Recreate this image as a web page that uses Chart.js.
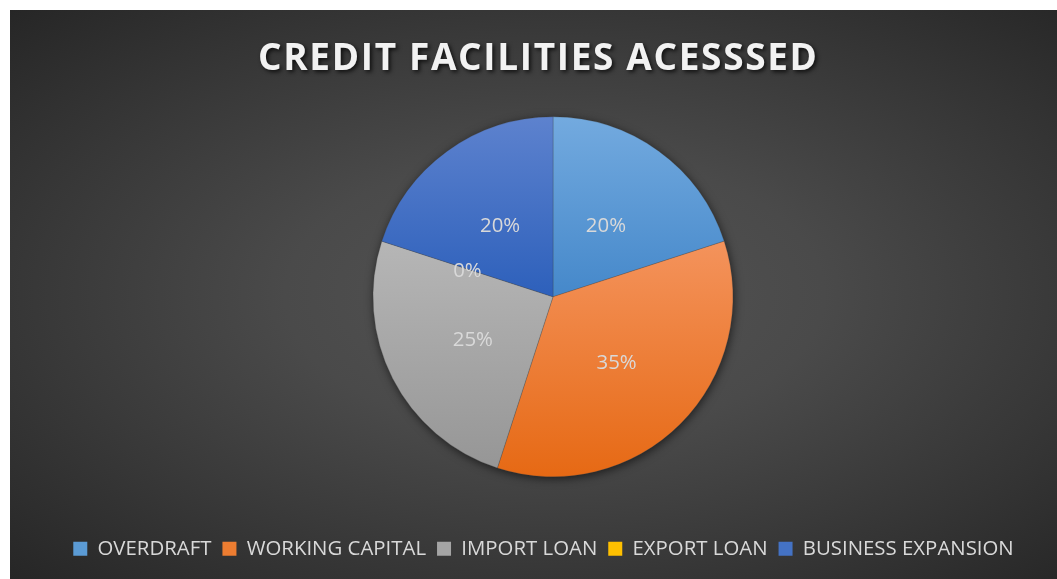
<!DOCTYPE html>
<html>
<head>
<meta charset="utf-8">
<script src="https://cdn.jsdelivr.net/npm/chart.js@4/dist/chart.umd.min.js"></script>
<style>
  html, body { margin: 0; padding: 0; background: #ffffff; }
  #panel {
    position: absolute; left: 10px; top: 10px; width: 1047px; height: 569px;
    background: radial-gradient(ellipse at 52% 50%, #545454 0%, #4a4a4a 35%, #262626 100%);
  }
  #myChart { display: block; }
</style>
</head>
<body>
<div id="panel"><canvas id="myChart" width="1047" height="569"></canvas></div>
<script>
// chart data
const chartTitle = 'CREDIT FACILITIES ACESSSED';
const categories = ['OVERDRAFT', 'WORKING CAPITAL', 'IMPORT LOAN', 'EXPORT LOAN', 'BUSINESS EXPANSION'];
const shares = [20, 35, 25, 0, 20];

// slice colours: lighter at top, darker at bottom
const topColors = ['#73aadf', '#f4935c', '#b6b6b6', '#ffcf3a', '#5d82ce'];
const bottomColors = ['#4588ca', '#e66914', '#969696', '#ffbc00', '#2d60bb'];
const flatColors = ['#5b9bd5', '#ed7d31', '#a5a5a5', '#ffc000', '#4472c4'];

const pieShiftX = 9.5; // pie sits a little right of the legend centre

// gradient over the bounding box of each slice, like the original
function sliceGradient(context) {
    const chart = context.chart;
    const area = chart.chartArea;
    const i = context.dataIndex;
    if (!area) return flatColors[i];
    const cy = (area.top + area.bottom) / 2;
    const r = 180;
    const total = shares.reduce((a, b) => a + b, 0);
    let before = 0;
    for (let k = 0; k < i; k++) before += shares[k];
    const a0 = -Math.PI / 2 + before / total * Math.PI * 2;
    const a1 = a0 + shares[i] / total * Math.PI * 2;
    let ys = [cy, cy + r * Math.sin(a0), cy + r * Math.sin(a1)];
    for (const a of [-Math.PI / 2, Math.PI / 2, Math.PI * 1.5]) {
        if (a > a0 && a < a1) ys.push(cy + r * Math.sin(a));
    }
    let y0 = Math.min(...ys), y1 = Math.max(...ys);
    if (y1 - y0 < 1) y1 = y0 + 1;
    const g = chart.ctx.createLinearGradient(0, y0, 0, y1);
    g.addColorStop(0, topColors[i]);
    g.addColorStop(1, bottomColors[i]);
    return g;
}

// move the plot area right without moving the legend
const shiftArea = {
    id: 'shiftArea',
    afterLayout(chart) {
        chart.chartArea.left += pieShiftX;
        chart.chartArea.right += pieShiftX;
    }
};

// title drawn by hand so it can get letter spacing and a shadow
const titlePlugin = {
    id: 'spacedTitle',
    afterDraw(chart) {
        const ctx = chart.ctx;
        ctx.save();
        ctx.font = 'bold 37px "Open Sans"';
        ctx.textAlign = 'center';
        ctx.textBaseline = 'middle';
        ctx.letterSpacing = '0px';
        const plain = ctx.measureText(chartTitle).width;
        const spacing = (559 - plain) / (chartTitle.length - 1);
        ctx.letterSpacing = spacing.toFixed(2) + 'px';
        ctx.shadowColor = 'rgba(0,0,0,0.75)';
        ctx.shadowBlur = 4;
        ctx.shadowOffsetX = 2;
        ctx.shadowOffsetY = 2;
        ctx.fillStyle = '#f2f2f2';
        ctx.fillText(chartTitle, 527.5 + spacing / 2, 49);
        ctx.restore();
    }
};

// soft shadow under the pie
const pieShadow = {
    id: 'pieShadow',
    beforeDatasetsDraw(chart) {
        const arc = chart.getDatasetMeta(0).data[0];
        if (!arc) return;
        const ctx = chart.ctx;
        ctx.save();
        ctx.shadowColor = 'rgba(0,0,0,0.6)';
        ctx.shadowBlur = 10;
        ctx.shadowOffsetX = 1;
        ctx.shadowOffsetY = 2;
        ctx.fillStyle = '#4a4a4a';
        ctx.beginPath();
        ctx.arc(arc.x, arc.y, arc.outerRadius, 0, Math.PI * 2);
        ctx.fill();
        ctx.restore();
    }
};

// percentage labels at half radius
const sliceLabels = {
    id: 'sliceLabels',
    afterDatasetsDraw(chart) {
        const ctx = chart.ctx;
        const meta = chart.getDatasetMeta(0);
        ctx.save();
        ctx.font = '20.4px "Open Sans"';
        ctx.fillStyle = '#d9d9d9';
        ctx.textAlign = 'center';
        ctx.textBaseline = 'middle';
        meta.data.forEach((arc, i) => {
            const p = arc.getCenterPoint();
            ctx.fillText(shares[i] + '%', p.x, p.y + 2.5);
        });
        ctx.restore();
    }
};

function initializeChart() {
    const ctx = document.getElementById('myChart').getContext('2d');
    return new Chart(ctx, {
        type: 'pie',
        data: {
            labels: categories,
            datasets: [{
                data: shares,
                backgroundColor: sliceGradient,
                borderColor: 'rgba(60,60,60,0.5)',
                borderWidth: 0.5,
                radius: 180,
            }]
        },
        options: {
            responsive: false,
            animation: false,
            rotation: 0,
            layout: { padding: { top: 56, bottom: 10, left: 20, right: 0 } },
            plugins: {
                tooltip: { enabled: false },
                title: { display: false },
                legend: {
                    position: 'bottom',
                    labels: {
                        color: '#d9d9d9',
                        font: { family: 'Open Sans', size: 20.4 },
                        boxWidth: 14,
                        boxHeight: 14,
                        padding: 11,
                        generateLabels(chart) {
                            return categories.map((c, i) => ({
                                text: c,
                                fillStyle: flatColors[i],
                                strokeStyle: flatColors[i],
                                lineWidth: 0,
                                fontColor: '#d9d9d9',
                                hidden: false,
                                index: i,
                                datasetIndex: 0
                            }));
                        }
                    }
                }
            }
        },
        plugins: [shiftArea, pieShadow, sliceLabels, titlePlugin]
    });
}

let myChart = initializeChart();
</script>
</body>
</html>
